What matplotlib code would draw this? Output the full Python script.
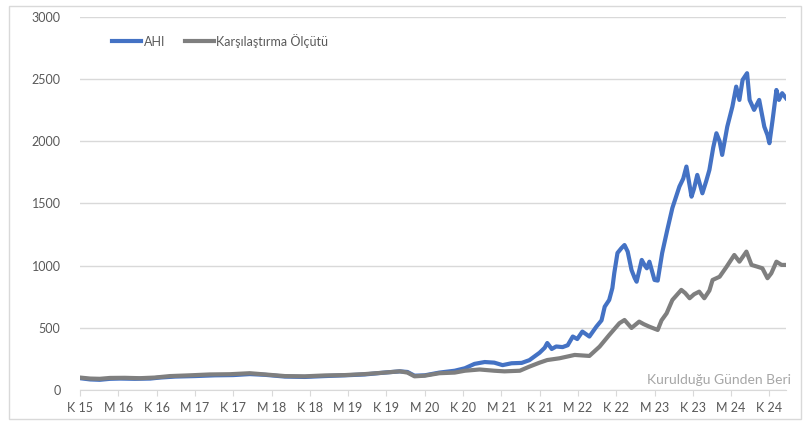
import matplotlib.pyplot as plt
from matplotlib.patches import Rectangle

plt.rcParams['font.family'] = ['Lato', 'DejaVu Sans']

# ay (K 15 = 0), degerler gorselden okunmustur
ahi_ay = [0, 1.6, 3.1, 4.7, 6.3, 8.6, 11, 12.5, 14.9, 18, 21.1, 24, 26.6, 29, 32.1, 35.2,
          38.3, 41.5, 44.6, 47.7, 50.1, 51.3, 52.4, 54, 56.3, 58.7, 60.3, 61.8, 63.4, 64.9,
          66.2, 67.6, 69.2, 70.4, 72, 72.8, 73.2, 73.9, 74.6, 75.6, 76.4, 77.2, 77.9, 78.7,
          79.8, 80.9, 81.7, 82.2, 82.9, 83.4, 83.7, 84.2, 84.8, 85.3, 85.8, 86.4, 86.9, 87.2,
          88, 88.5, 88.8, 89.2, 90, 90.5, 91.2, 92, 92.8, 93.9, 94.5, 95, 95.8, 96.2, 96.7,
          97.5, 98.1, 98.6, 99.2, 99.7, 100.2, 100.6, 101.4, 102.2, 102.8, 103.3, 103.8,
          104.5, 104.9, 105.6, 106.4, 107.2, 107.7, 108, 108.5, 109.1, 109.5, 110, 110.6]
ahi = [95, 85, 82, 90, 92, 90, 92, 100, 108, 112, 118, 120, 128, 122, 108, 105,
       112, 118, 125, 140, 150, 145, 115, 118, 140, 155, 175, 210, 225, 220,
       200, 215, 218, 240, 300, 340, 378, 330, 350, 345, 360, 430, 410, 470,
       430, 510, 560, 670, 724, 820, 941, 1102, 1140, 1166, 1113, 965, 900, 871,
       1046, 1000, 979, 1032, 885, 880, 1102, 1287, 1464, 1636, 1700, 1797, 1555, 1620, 1730,
       1582, 1680, 1770, 1950, 2065, 2000, 1891, 2118, 2279, 2440, 2333, 2494,
       2548, 2333, 2253, 2333, 2118, 2050, 1985, 2172, 2413, 2333, 2387, 2347]

kiyas_ay = [0, 1.6, 3.1, 4.7, 7, 9.4, 11.7, 14.1, 17.2, 20.3, 23.5, 26.6, 29, 32.1, 35.2,
            38.3, 41.5, 44.6, 47.7, 50.1, 51.3, 52.4, 54, 56.3, 58.7, 60.3, 62.6, 64.9,
            66.5, 68.9, 70.4, 72, 73.2, 75.1, 77.5, 79.8, 81.4, 82.9, 84.5, 85.3, 86.4,
            87.6, 88.3, 89.2, 90.5, 91.1, 91.9, 92.8, 94.2, 94.8, 95.5, 96.2, 97, 97.8,
            98.6, 99.1, 100.2, 101.3, 102.5, 103.3, 104.4, 105.2, 106.1, 106.9, 107.7,
            108.3, 109.1, 109.9, 110.6]
kiyas = [100, 92, 90, 97, 98, 95, 100, 112, 118, 125, 127, 135, 125, 112, 110,
         117, 120, 128, 140, 150, 140, 110, 115, 135, 140, 155, 165, 155,
         150, 155, 188, 220, 241, 255, 282, 274, 349, 442, 537, 563, 499,
         550, 530, 509, 483, 560, 617, 724, 805, 780, 738, 770, 791, 738,
         800, 885, 911, 992, 1086, 1032, 1113, 1006, 992, 979, 899,
         939, 1032, 1006, 1006]

etiketler = ['K 15', 'M 16', 'K 16', 'M 17', 'K 17', 'M 18', 'K 18', 'M 19', 'K 19', 'M 20',
             'K 20', 'M 21', 'K 21', 'M 22', 'K 22', 'M 23', 'K 23', 'M 24', 'K 24']

fig = plt.figure(figsize=(8.07, 4.24), dpi=100)
ax = fig.add_axes([80 / 807, 34 / 424, 706 / 807, 373 / 424])

# dis cerceve
fig.patches.append(Rectangle((9 / 807, 5 / 424), 792 / 807, 413 / 424, transform=fig.transFigure,
                             fill=False, edgecolor='#d9d9d9', linewidth=1))

ax.plot(ahi_ay, ahi, color='#4472C4', linewidth=3, label='AHI', solid_joinstyle='round')
ax.plot(kiyas_ay, kiyas, color='#7F7F7F', linewidth=3, label='Karşılaştırma Ölçütü',
        solid_joinstyle='round')

ax.set_xlim(0, 110.6)
ax.set_ylim(0, 3000)
ax.set_yticks(range(0, 3001, 500))
ax.set_xticks(range(0, 109, 6))
ax.set_xticklabels(etiketler)

ax.grid(axis='y', color='#d9d9d9', linewidth=1)
ax.set_axisbelow(True)
for s in ['left', 'right', 'top']:
    ax.spines[s].set_visible(False)
ax.spines['bottom'].set_color('#d9d9d9')
ax.tick_params(axis='y', length=0, pad=14, labelsize=9, labelcolor='#595959')
ax.tick_params(axis='x', length=4, color='#d9d9d9', pad=5, labelsize=9, labelcolor='#595959')

ax.legend(loc='upper left', bbox_to_anchor=(0.03, 0.985), ncol=2, frameon=False, fontsize=9,
          handlelength=2.3, handletextpad=0.2, columnspacing=1.6, labelcolor='#595959')

fig.text(791 / 807, 44 / 424, 'Kurulduğu Günden Beri', ha='right', va='center',
         fontsize=10, color='#a6a6a6')

fig.savefig('out.png', dpi=100)
